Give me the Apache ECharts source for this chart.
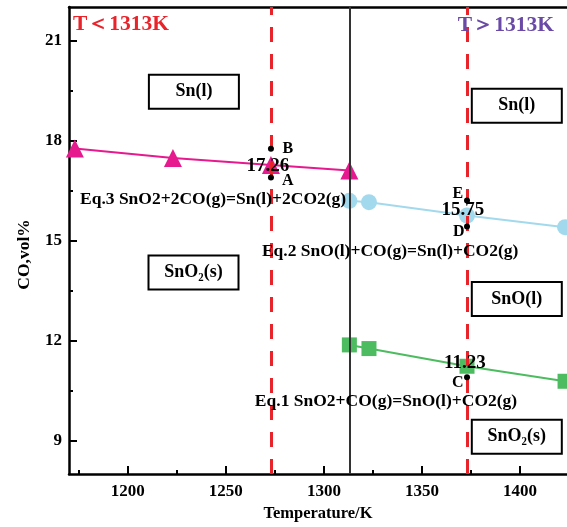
<!DOCTYPE html>
<html><head><meta charset="utf-8">
<script src="https://cdn.jsdelivr.net/npm/echarts@6/dist/echarts.min.js"></script>
<style>html,body{margin:0;padding:0;background:#fff}#c{width:567px;height:527px}</style>
</head><body><div id="c"></div>
<script>
// ---- data ----
const eq3Temps = [1173, 1223, 1273, 1313];
const eq3Values = [17.76, 17.47, 17.26, 17.10];
const eq2Temps = [1313, 1323, 1373, 1423];
const eq2Values = [16.19, 16.15, 15.75, 15.40];
const eq1Temps = [1313, 1323, 1373, 1423];
const eq1Values = [11.87, 11.76, 11.23, 10.78];
const xMajorTicks = [1200, 1250, 1300, 1350, 1400];
const xMinorTicks = [1175, 1225, 1275, 1325, 1375];
const yMajorTicks = [9, 12, 15, 18, 21];
const yMinorTicks = [10.5, 13.5, 16.5, 19.5];
const dashedTemps = [1273, 1373];
const boundaryTemp = 1313;
// marked points A-E
const pointNames = ['A', 'B', 'C', 'D', 'E'];
const pointTemps = [1273, 1273, 1373, 1373, 1373];
const pointValues = [16.89, 17.75, 10.90, 15.42, 16.20];
const pointTextTemps = [1281.6, 1281.6, 1368.3, 1368.8, 1368.3];
const pointTextValues = [16.78, 17.76, 10.72, 15.25, 16.39];
// value labels
const valueTexts = ['17.26', '15.75', '11.23'];
const valueTextTemps = [1271.4, 1370.9, 1371.9];
const valueTextValues = [17.23, 15.91, 11.31];
// equation labels (left-aligned)
const eqTexts = ['Eq.3 SnO2+2CO(g)=Sn(l)+2CO2(g)', 'Eq.2 SnO(l)+CO(g)=Sn(l)+CO2(g)', 'Eq.1 SnO2+CO(g)=SnO(l)+CO2(g)'];
const eqTextTemps = [1175.6, 1268.4, 1264.8];
const eqTextValues = [16.24, 14.66, 10.18];
// region titles
const regionTexts = ['T＜1313K', 'T＞1313K'];
const regionTemps = [1172, 1368.3];
const regionValues = [21.49, 21.46];
const regionColors = ['#e8232a', '#6a4aa6'];
// phase boxes
const boxTexts = ['Sn(l)', 'Sn(l)', 'SnO₂(s)', 'SnO(l)', 'SnO₂(s)'];
const boxTemps = [1233.7, 1398.4, 1233.5, 1398.4, 1398.4];
const boxValues = [19.46, 19.04, 14.04, 13.25, 9.12];

const FONT = "'Liberation Serif','Times New Roman',serif";
const zip = (a, b) => a.map((v, i) => [v, b[i]]);

const chart = echarts.init(document.getElementById('c'), null, {renderer: 'canvas'});

const annotationData = [];
pointNames.forEach((t, i) => annotationData.push({value: [pointTextTemps[i], pointTextValues[i]], label: {formatter: t, fontSize: 16}}));
valueTexts.forEach((t, i) => annotationData.push({value: [valueTextTemps[i], valueTextValues[i]], label: {formatter: t, fontSize: 19}}));
eqTexts.forEach((t, i) => annotationData.push({value: [eqTextTemps[i], eqTextValues[i]], label: {formatter: t, fontSize: 17.5, align: 'left'}}));
regionTexts.forEach((t, i) => annotationData.push({value: [regionTemps[i], regionValues[i]], label: {formatter: t, fontSize: 21.5, align: 'left', color: regionColors[i]}}));
boxTexts.forEach((t, i) => annotationData.push({value: [boxTemps[i], boxValues[i]], label: {formatter: t, fontSize: 18, width: 88, height: 32, lineHeight: 32, borderColor: '#000', borderWidth: 2, backgroundColor: '#fff'}}));

const tickFmt = v => String(v);

const option = {
  animation: false,
  backgroundColor: '#fff',
  grid: {left: 69, right: 0, top: 7, bottom: 51, containLabel: false},
  xAxis: [
    {
      type: 'value', position: 'bottom', min: 1170, max: 1424,
      name: 'Temperature/K', nameLocation: 'middle', nameGap: 31,
      nameTextStyle: {fontFamily: FONT, fontWeight: 'bold', fontSize: 16.5, color: '#000'},
      axisLine: {show: true, lineStyle: {color: '#000', width: 2.5}},
      axisTick: {show: true, inside: true, length: 8, lineStyle: {color: '#000', width: 2}, customValues: xMajorTicks},
      axisLabel: {show: true, margin: 9, fontFamily: FONT, fontWeight: 'bold', fontSize: 17, color: '#000', customValues: xMajorTicks, formatter: tickFmt},
      splitLine: {show: false}
    },
    {
      type: 'value', position: 'bottom', min: 1170, max: 1424,
      axisLine: {show: false},
      axisTick: {show: true, inside: true, length: 4, lineStyle: {color: '#000', width: 2}, customValues: xMinorTicks},
      axisLabel: {show: false}, splitLine: {show: false}
    },
    {
      type: 'value', position: 'top', min: 1170, max: 1424,
      axisLine: {show: true, lineStyle: {color: '#000', width: 2.5}},
      axisTick: {show: false}, axisLabel: {show: false}, splitLine: {show: false}
    }
  ],
  yAxis: [
    {
      type: 'value', position: 'left', min: 8, max: 22,
      name: 'CO,vol%', nameLocation: 'middle', nameGap: 36,
      nameTextStyle: {fontFamily: FONT, fontWeight: 'bold', fontSize: 17.5, color: '#000', padding: [0, 28, 0, 0]},
      axisLine: {show: true, lineStyle: {color: '#000', width: 2.5}},
      axisTick: {show: true, inside: true, length: 8, lineStyle: {color: '#000', width: 2}, customValues: yMajorTicks},
      axisLabel: {show: true, margin: 7, fontFamily: FONT, fontWeight: 'bold', fontSize: 17, color: '#000', customValues: yMajorTicks, formatter: tickFmt},
      splitLine: {show: false}
    },
    {
      type: 'value', position: 'left', min: 8, max: 22,
      axisLine: {show: false},
      axisTick: {show: true, inside: true, length: 4, lineStyle: {color: '#000', width: 2}, customValues: yMinorTicks},
      axisLabel: {show: false}, splitLine: {show: false}
    }
  ],
  series: [
    {
      name: 'Eq.3', type: 'line', data: zip(eq3Temps, eq3Values),
      symbol: 'triangle', symbolSize: 18, z: 3,
      itemStyle: {color: '#e6198f'}, lineStyle: {color: '#e6198f', width: 2}
    },
    {
      name: 'Eq.2', type: 'line', data: zip(eq2Temps, eq2Values),
      symbol: 'circle', symbolSize: 16, z: 3, clip: false,
      itemStyle: {color: '#a3d9ec'}, lineStyle: {color: '#a3d9ec', width: 2}
    },
    {
      name: 'Eq.1', type: 'line', data: zip(eq1Temps, eq1Values),
      symbol: 'rect', symbolSize: 15, z: 3, clip: false,
      itemStyle: {color: '#4dbb5f'}, lineStyle: {color: '#4dbb5f', width: 2},
      markLine: {
        silent: true, symbol: 'none', animation: false, z: 4,
        label: {show: false},
        data: [
          {xAxis: boundaryTemp, lineStyle: {color: '#333', width: 2, type: 'solid'}},
          ...dashedTemps.map(t => ({xAxis: t, lineStyle: {color: '#e8232a', width: 3, type: [15, 12]}}))
        ]
      }
    },
    {
      name: 'points', type: 'scatter', data: zip(pointTemps, pointValues),
      symbol: 'circle', symbolSize: 6, z: 6,
      itemStyle: {color: '#000', opacity: 1}
    },
    {
      name: 'annotations', type: 'scatter', data: annotationData,
      symbolSize: 0, z: 7, silent: true, clip: false,
      itemStyle: {opacity: 1},
      label: {show: true, position: 'inside', align: 'center', verticalAlign: 'middle', opacity: 1,
        fontFamily: FONT, fontWeight: 'bold', color: '#000', textBorderWidth: 0}
    }
  ]
};
chart.setOption(option);
</script>
</body></html>
